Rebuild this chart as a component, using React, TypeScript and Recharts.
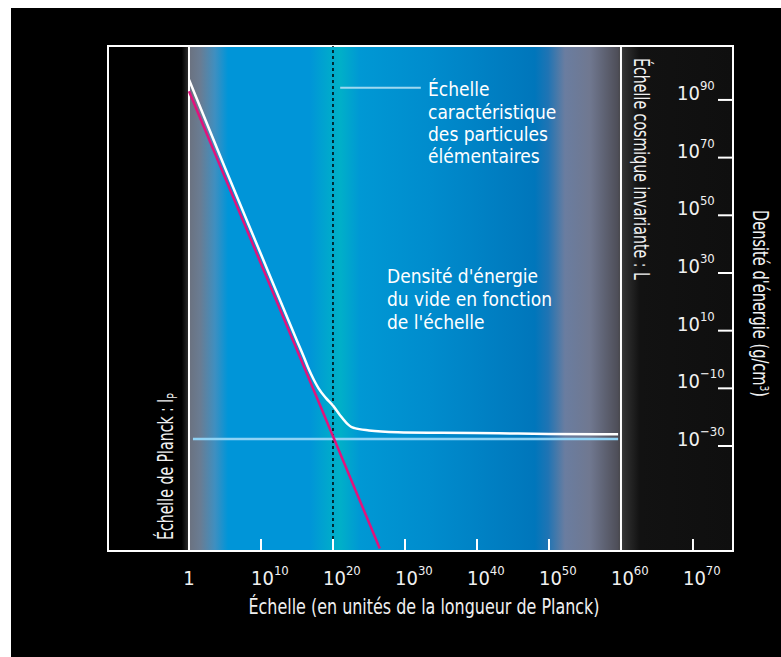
import React from 'react';
import { LineChart, Line, XAxis, YAxis, ReferenceArea, ReferenceLine } from 'recharts';

// exponents (log10)
const xTicks = [0, 10, 20, 30, 40, 50, 60, 70];
const yTicks = [90, 70, 50, 30, 10, -10, -30];

// vacuum energy density vs scale (white curve)
const vacuumX = [0, 5, 10, 15, 16, 16.5, 17, 17.5, 18, 19, 20, 21, 22, 22.5, 23, 25, 29, 35, 43, 50, 57, 59.6];
const vacuumY = [97, 66.5, 36.5, 6.5, 0.6, -2.5, -5.3, -7.8, -10, -13.3, -16, -19.4, -22.3, -23.3, -23.8, -24.6, -25.2, -25.4, -25.6, -25.8, -25.9, -25.9];

// naive density (pink line)
const naiveX = [0, 26.5];
const naiveY = [93, -65.5];

// observed density (horizontal light blue line)
const observedX = [0.55, 59.6];
const observedY = -27.6;

const X_DOMAIN: [number, number] = [-11.25, 75.56];
const Y_DOMAIN: [number, number] = [-66.4, 108.7];

const vacuumData = vacuumX.map((x, i) => ({ x, y: vacuumY[i] }));
const naiveData = naiveX.map((x, i) => ({ x, y: naiveY[i] }));

const FONT = "'Liberation Sans Narrow', 'DejaVu Sans Condensed', 'Roboto Condensed', 'Roboto', sans-serif";
const TEXT = '#f0f0f0';

const XTick = (props: any) => {
  const { x, y, payload } = props;
  const v = payload.value;
  return (
    <g>
      <line x1={x} x2={x} y1={y - 12} y2={y} stroke="#fff" strokeWidth={2} />
      {v === 0 ? (
        <text x={x} y={y + 34} textAnchor="middle" fill={TEXT} fontSize={20} fontFamily={FONT}>1</text>
      ) : (
        <text x={x - 10} y={y + 34} fill={TEXT} fontSize={20} fontFamily={FONT}>
          10<tspan dy={-10} fontSize={13}>{v}</tspan>
        </text>
      )}
    </g>
  );
};

const YTick = (props: any) => {
  const { x, y, payload } = props;
  const v = payload.value;
  return (
    <g>
      <line x1={x - 15} x2={x - 1} y1={y} y2={y} stroke="#fff" strokeWidth={2} />
      <text x={x - 56} y={y} fill={TEXT} fontSize={20} fontFamily={FONT}>
        10<tspan dy={-10} fontSize={13}>{v < 0 ? '\u2212' + Math.abs(v) : v}</tspan>
      </text>
    </g>
  );
};

const App: React.FC = () => {
  return (
    <div style={{ position: 'absolute', left: 0, top: 0, width: 781, height: 657, background: '#fff' }}>
      <div style={{ position: 'absolute', left: 11, top: 8, right: 0, bottom: 0, background: '#000' }} />
      <div style={{ position: 'absolute', left: 0, top: 0 }}>
        <LineChart width={781} height={657} margin={{ top: 46, right: 0, bottom: 46, left: 108 }}>
          <defs>
            <linearGradient id="bg" x1="0" y1="0" x2="1" y2="0">
              <stop offset={0} stopColor="#000" />
              <stop offset={0.118} stopColor="#000" />
              <stop offset={0.128} stopColor="#2a2a2a" />
              <stop offset={0.13} stopColor="#6b7280" />
              <stop offset={0.147} stopColor="#6a7c92" />
              <stop offset={0.171} stopColor="#3f8fc0" />
              <stop offset={0.192} stopColor="#0095d8" />
              <stop offset={0.323} stopColor="#0095d8" />
              <stop offset={0.355} stopColor="#00a9cc" />
              <stop offset={0.371} stopColor="#00b0c8" />
              <stop offset={0.403} stopColor="#0098d4" />
              <stop offset={0.515} stopColor="#008ccd" />
              <stop offset={0.683} stopColor="#0076bb" />
              <stop offset={0.704} stopColor="#1f74b4" />
              <stop offset={0.731} stopColor="#6a7da0" />
              <stop offset={0.771} stopColor="#707890" />
              <stop offset={0.816} stopColor="#4e4e58" />
              <stop offset={0.822} stopColor="#3a3a3a" />
              <stop offset={0.826} stopColor="#303030" />
              <stop offset={0.851} stopColor="#121212" />
              <stop offset={1} stopColor="#0f0f0f" />
            </linearGradient>
          </defs>
          <XAxis
            type="number"
            dataKey="x"
            domain={X_DOMAIN}
            ticks={xTicks}
            allowDataOverflow
            axisLine={false}
            tickLine={false}
            tickSize={0}
            tickMargin={0}
            height={60}
            interval={0}
            tick={<XTick />}
          />
          <YAxis
            type="number"
            dataKey="y"
            orientation="right"
            domain={Y_DOMAIN}
            ticks={yTicks}
            allowDataOverflow
            axisLine={false}
            tickLine={false}
            tickSize={0}
            tickMargin={0}
            width={48}
            interval={0}
            tick={<YTick />}
          />
          <ReferenceArea
            x1={X_DOMAIN[0]}
            x2={X_DOMAIN[1]}
            y1={Y_DOMAIN[0]}
            y2={Y_DOMAIN[1]}
            fill="url(#bg)"
            fillOpacity={1}
            stroke="#fff"
            strokeWidth={2}
          />
          <ReferenceLine x={0} stroke="#fff" strokeWidth={2} />
          <ReferenceLine x={60} stroke="#fff" strokeWidth={2} />
          <ReferenceLine x={20} stroke="#000" strokeWidth={1.5} strokeDasharray="3 3" />
          <ReferenceLine
            segment={[{ x: observedX[0], y: observedY }, { x: observedX[1], y: observedY }]}
            stroke="#8fd3f5"
            strokeWidth={2.5}
          />
          <ReferenceLine
            segment={[{ x: 21, y: 94.2 }, { x: 32.2, y: 94.2 }]}
            stroke="#9ed8f0"
            strokeWidth={2}
          />
          <Line
            data={naiveData}
            dataKey="y"
            type="linear"
            stroke="#e2127c"
            strokeWidth={2.5}
            dot={false}
            isAnimationActive={false}
          />
          <Line
            data={vacuumData}
            dataKey="y"
            type="monotone"
            stroke="#fff"
            strokeWidth={2.5}
            dot={false}
            isAnimationActive={false}
          />
        </LineChart>
      </div>
      <svg width={781} height={657} style={{ position: 'absolute', left: 0, top: 0, pointerEvents: 'none' }}>
        <g fontFamily={FONT} fill="#fff" fontSize={19}>
          <text x={428} y={96}>Échelle</text>
          <text x={428} y={119}>caractéristique</text>
          <text x={428} y={141}>des particules</text>
          <text x={428} y={163}>élémentaires</text>
          <text x={387} y={283}>Densité d'énergie</text>
          <text x={387} y={306}>du vide en fonction</text>
          <text x={387} y={329}>de l'échelle</text>
        </g>
        <g fontFamily={FONT} fill={TEXT} fontSize={21}>
          <text transform="translate(173,540) rotate(-90)" textLength={147} lengthAdjust="spacingAndGlyphs">
            Échelle de Planck : l<tspan dy={4} fontSize={14}>P</tspan>
          </text>
          <text transform="translate(634,58) rotate(90)" textLength={222} lengthAdjust="spacingAndGlyphs">
            Échelle cosmique invariante : L
          </text>
          <text transform="translate(753,210) rotate(90)" textLength={187} lengthAdjust="spacingAndGlyphs">
            Densité d'énergie (g/cm<tspan dy={-7} fontSize={13}>3</tspan><tspan dy={7}>)</tspan>
          </text>
          <text x={424} y={614} textAnchor="middle" textLength={351} lengthAdjust="spacingAndGlyphs">
            Échelle (en unités de la longueur de Planck)
          </text>
        </g>
      </svg>
    </div>
  );
};

export default App;
